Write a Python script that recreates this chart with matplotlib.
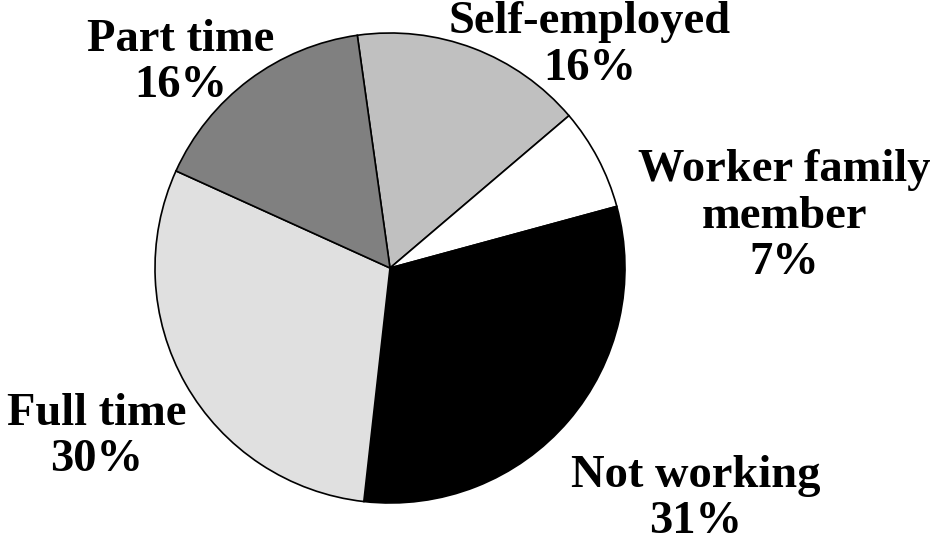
import matplotlib
matplotlib.use('Agg')
import matplotlib.pyplot as plt

# slices, clockwise from the top
labels = ['Self-employed', 'Worker family\nmember', 'Not working', 'Full time', 'Part time']
shares = [16, 7, 31, 30, 16]
colors = ['#c0c0c0', '#ffffff', '#000000', '#e0e0e0', '#808080']
# label centres in pie-radius units
label_x = [0.851, 1.679, 1.302, -1.247, -0.891]
label_y = [0.947, 0.219, -0.983, -0.719, 0.874]

plt.rcParams['font.family'] = ['Liberation Serif', 'DejaVu Serif']

fig = plt.figure(figsize=(9.36, 5.56), dpi=100)
ax = fig.add_axes([0, 0, 1, 1])

# pixel scale: centre at (390, 268), radius 235 px
r_px = 235.0
ax.pie(shares, colors=colors, startangle=98, counterclock=False,
       wedgeprops=dict(edgecolor='black', linewidth=1.2))
ax.set_xlim(-390 / r_px, (936 - 390) / r_px)
ax.set_ylim(-(556 - 268) / r_px, 268 / r_px)
ax.set_aspect('equal')
ax.axis('off')

for lab, v, x, y in zip(labels, shares, label_x, label_y):
    ax.text(x, y, '{}\n{}%'.format(lab, v), ha='center', va='center',
            fontsize=33.5, fontweight='bold', linespacing=1.13)

fig.savefig('out.png', dpi=100)
